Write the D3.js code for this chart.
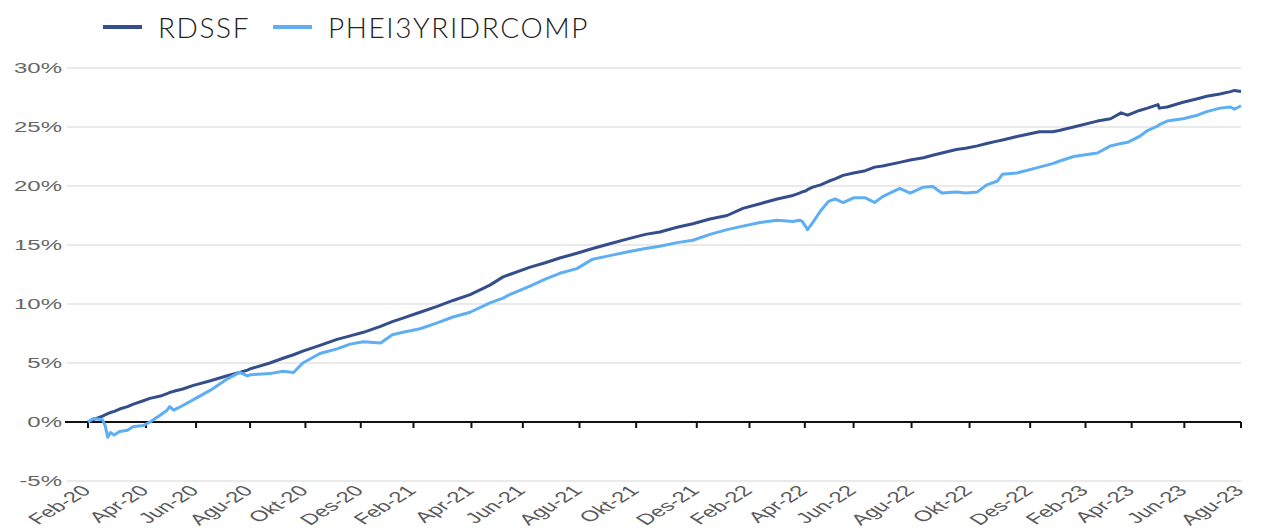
<!DOCTYPE html>
<html>
<head>
<meta charset="utf-8">
<script src="https://cdn.jsdelivr.net/npm/d3@7"></script>
<style>
  body { margin: 0; background: #fff; }
  .plot text { font-family: "Liberation Sans", Arial, sans-serif; }
  .legend text { font-family: Lato, "Open Sans", sans-serif; font-weight: 300; fill: #222; }
</style>
</head>
<body>
<svg class="plot" width="1266" height="532"></svg>
<script>
// trading day number since start (x position on the category axis)
var day = [0, 4, 11, 13, 15, 17, 20, 24, 30, 34, 42, 47, 55, 60, 62, 65, 72, 80, 93, 105,
  115, 121, 123, 138, 148, 156, 163, 176, 189, 199, 209, 222, 231, 239, 252, 265, 277, 290, 305, 315,
  320, 335, 347, 358, 371, 383, 396, 409, 423, 434, 447, 459, 472, 485, 497, 510, 523, 535, 540, 542,
  545, 546, 550, 556, 562, 567, 573, 581, 590, 597, 603, 616, 624, 634, 641, 648, 659, 666, 675, 682,
  690, 694, 705, 722, 732, 737, 748, 766, 776, 784, 789, 798, 804, 812, 813, 819, 831, 842, 849, 859,
  867, 870, 875];

// cumulative return, %
var rdssf = [0.0, 0.2, 0.5, 0.6, 0.7, 0.8, 0.9, 1.1, 1.3, 1.5, 1.8, 2.0, 2.2, 2.4, 2.5, 2.6, 2.8, 3.1, 3.5, 3.9,
  4.2, 4.4, 4.5, 5.0, 5.4, 5.7, 6.0, 6.5, 7.0, 7.3, 7.6, 8.1, 8.5, 8.8, 9.3, 9.8, 10.3, 10.8, 11.6, 12.3,
  12.5, 13.1, 13.5, 13.9, 14.3, 14.7, 15.1, 15.5, 15.9, 16.1, 16.5, 16.8, 17.2, 17.5, 18.1, 18.5, 18.9, 19.2, 19.4, 19.5,
  19.6, 19.7, 19.9, 20.1, 20.4, 20.6, 20.9, 21.1, 21.3, 21.6, 21.7, 22.0, 22.2, 22.4, 22.6, 22.8, 23.1, 23.2, 23.4, 23.6,
  23.8, 23.9, 24.2, 24.6, 24.6, 24.7, 25.0, 25.5, 25.7, 26.2, 26.0, 26.4, 26.6, 26.9, 26.6, 26.7, 27.1, 27.4, 27.6, 27.8,
  28.0, 28.1, 28.0];

var phei = [0.0, 0.3, 0.2, -0.3, -1.3, -0.9, -1.1, -0.8, -0.7, -0.4, -0.3, 0.0, 0.6, 1.0, 1.3, 1.0, 1.4, 1.9, 2.7, 3.6,
  4.2, 3.9, 4.0, 4.1, 4.3, 4.2, 5.0, 5.8, 6.2, 6.6, 6.8, 6.7, 7.4, 7.6, 7.9, 8.4, 8.9, 9.3, 10.1, 10.5,
  10.8, 11.5, 12.1, 12.6, 13.0, 13.8, 14.1, 14.4, 14.7, 14.9, 15.2, 15.4, 15.9, 16.3, 16.6, 16.9, 17.1, 17.0, 17.1, 17.0,
  16.5, 16.3, 16.9, 17.9, 18.7, 18.9, 18.6, 19.0, 19.0, 18.6, 19.1, 19.8, 19.4, 19.9, 19.95, 19.4, 19.5, 19.4, 19.5, 20.1,
  20.4, 21.0, 21.1, 21.6, 21.9, 22.1, 22.5, 22.8, 23.4, 23.6, 23.7, 24.2, 24.7, 25.1, 25.2, 25.5, 25.7, 26.0, 26.3, 26.6,
  26.7, 26.5, 26.8];

var seriesNames = ["RDSSF", "PHEI3YRIDRCOMP"];
var seriesColors = ["#344e8c", "#5eaef4"];

// x tick labels and the trading day they sit on
var tickDays = [0, 44, 82, 123, 165, 207, 247, 291, 330, 373, 416, 462, 502, 544, 581, 625, 669, 715, 757, 792, 832, 875];
var tickLabels = ["Feb-20", "Apr-20", "Jun-20", "Agu-20", "Okt-20", "Des-20", "Feb-21", "Apr-21", "Jun-21", "Agu-21",
  "Okt-21", "Des-21", "Feb-22", "Apr-22", "Jun-22", "Agu-22", "Okt-22", "Des-22", "Feb-23", "Apr-23", "Jun-23", "Agu-23"];
var yTicks = [-5, 0, 5, 10, 15, 20, 25, 30];

var svg = d3.select(".plot"),
    margin = {top: 68, right: 25, bottom: 51, left: 67},
    width = +svg.attr("width") - margin.left - margin.right,
    height = +svg.attr("height") - margin.top - margin.bottom;

var x = d3.scaleLinear().domain([0, 875]).range([21, width]),
    y = d3.scaleLinear().domain([-5, 30]).range([height, 0]);

var g = svg.append("g")
    .attr("transform", "translate(" + margin.left + "," + margin.top + ")");

// horizontal gridlines
g.selectAll(".grid")
    .data(yTicks.filter(function(d) { return d !== 0; }))
    .enter().append("line")
    .attr("class", "grid")
    .attr("x1", 0)
    .attr("x2", width)
    .attr("y1", function(d) { return y(d); })
    .attr("y2", function(d) { return y(d); })
    .attr("stroke", "#e3e3e3")
    .attr("stroke-width", 1.5);

// y labels (stretched wide like the source)
g.selectAll(".ylab")
    .data(yTicks)
    .enter().append("text")
    .attr("class", "ylab")
    .attr("transform", function(d) { return "translate(-5," + y(d) + ") scale(1.6,1)"; })
    .attr("dy", "0.36em")
    .attr("text-anchor", "end")
    .style("font-size", "15px")
    .style("fill", "#666")
    .text(function(d) { return d + "%"; });

// zero line with ticks
var xAxis = g.append("g")
    .attr("transform", "translate(0," + y(0) + ")");

xAxis.append("line")
    .attr("x1", -2)
    .attr("x2", width)
    .attr("stroke", "#111")
    .attr("stroke-width", 2);

xAxis.selectAll(".tick")
    .data(tickDays)
    .enter().append("line")
    .attr("class", "tick")
    .attr("x1", function(d) { return x(d); })
    .attr("x2", function(d) { return x(d); })
    .attr("y1", 0)
    .attr("y2", 6)
    .attr("stroke", "#111")
    .attr("stroke-width", 2);

// x labels along the bottom
g.selectAll(".xlab")
    .data(tickDays)
    .enter().append("text")
    .attr("class", "xlab")
    .attr("transform", function(d) { return "translate(" + (x(d) - 2) + "," + (height + 7) + ") scale(1.6,1) rotate(-45)"; })
    .attr("dy", "0.35em")
    .attr("text-anchor", "end")
    .style("font-size", "15px")
    .style("fill", "#5a5a5a")
    .text(function(d, i) { return tickLabels[i]; });

// lines
var line = d3.line()
    .x(function(d) { return x(d[0]); })
    .y(function(d) { return y(d[1]); });

[rdssf, phei].forEach(function(vals, i) {
  g.append("path")
      .datum(day.map(function(d, j) { return [d, vals[j]]; }))
      .attr("fill", "none")
      .attr("stroke", seriesColors[i])
      .attr("stroke-width", 3)
      .attr("stroke-linejoin", "round")
      .attr("d", line);
});

// legend
var legend = svg.append("g").attr("class", "legend");
var legendX = [103, 273];

legend.selectAll("line")
    .data(seriesNames)
    .enter().append("line")
    .attr("x1", function(d, i) { return legendX[i]; })
    .attr("x2", function(d, i) { return legendX[i] + 39; })
    .attr("y1", 27)
    .attr("y2", 27)
    .attr("stroke", function(d, i) { return seriesColors[i]; })
    .attr("stroke-width", 4);

legend.selectAll("text")
    .data(seriesNames)
    .enter().append("text")
    .attr("x", function(d, i) { return legendX[i] + 55; })
    .attr("y", 38)
    .style("font-size", "28px")
    .style("letter-spacing", "1.6px")
    .text(function(d) { return d; });
</script>
</body>
</html>
